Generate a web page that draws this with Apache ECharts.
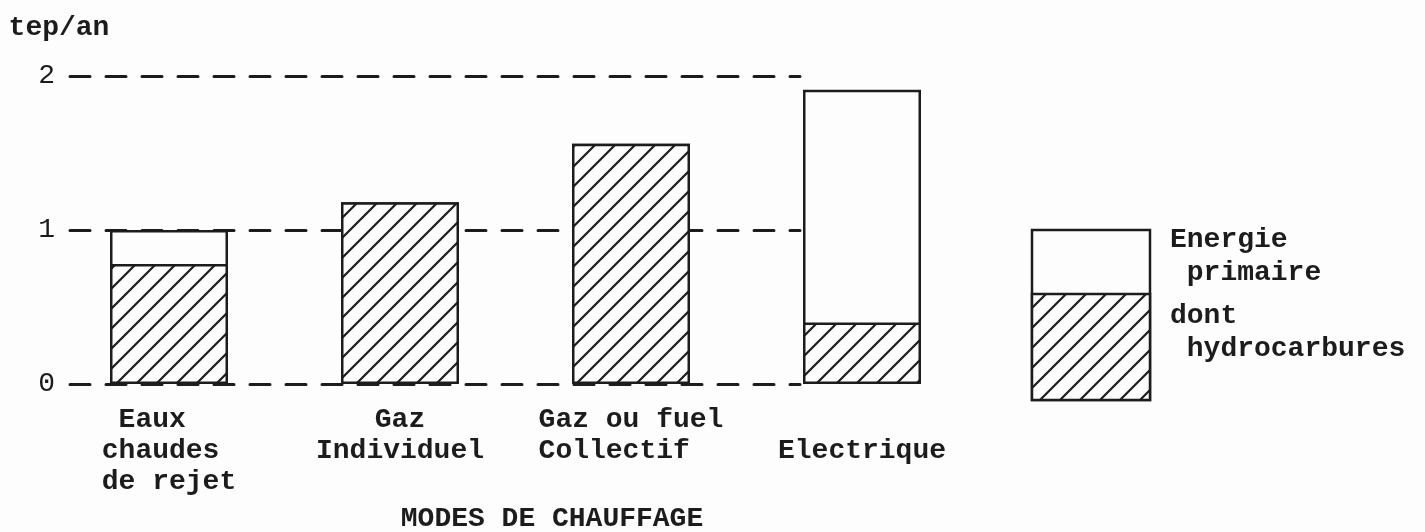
<!DOCTYPE html>
<html>
<head>
<meta charset="utf-8">
<script src="https://cdn.jsdelivr.net/npm/echarts@6/dist/echarts.min.js"></script>
<style>
html, body { margin: 0; padding: 0; background: #fdfdfd; }
#chart { width: 1425px; height: 532px; }
</style>
</head>
<body>
<div id="chart"></div>
<script>
// valeurs (tep/an)
const categories = [' Eaux   \nchaudes \nde rejet', 'Gaz\nIndividuel', 'Gaz ou fuel\nCollectif  ', '\nElectrique']
const energiePrimaire = [1.0, 1.18, 1.56, 1.91]
const dontHydrocarbures = [0.78, 1.18, 1.56, 0.40]
const yTicks = [0, 1, 2]

const ink = '#1c1c1c'
const paper = '#fdfdfd'
const typeFont = 'Liberation Mono'

// hachures obliques
function makeHatch(size, width) {
  const c = document.createElement('canvas')
  c.width = c.height = size
  const ctx = c.getContext('2d')
  ctx.fillStyle = paper
  ctx.fillRect(0, 0, size, size)
  ctx.strokeStyle = ink
  ctx.lineWidth = width
  ctx.beginPath()
  ctx.moveTo(0, size); ctx.lineTo(size, 0)
  ctx.moveTo(-size / 2, size / 2); ctx.lineTo(size / 2, -size / 2)
  ctx.moveTo(size / 2, size * 1.5); ctx.lineTo(size * 1.5, size / 2)
  ctx.stroke()
  return c
}
const hatch = { image: makeHatch(20, 2.2), repeat: 'repeat' }

const myChart = echarts.init(document.getElementById('chart'))
const option = {
  backgroundColor: paper,
  animation: false,
  textStyle: { fontFamily: typeFont, color: ink },
  grid: [
    // grille des pointillés (axe y)
    { left: 70, right: 625, top: 76, bottom: 148 },
    // grille des barres
    { left: 53.5, right: 447.5, top: 76, bottom: 148 }
  ],
  xAxis: [
    { gridIndex: 0, type: 'value', show: false, min: 0, max: 1 },
    {
      gridIndex: 1,
      type: 'category',
      data: categories,
      axisLine: { show: false },
      axisTick: { show: false },
      axisLabel: {
        interval: 0,
        margin: 20,
        fontFamily: typeFont,
        fontSize: 28,
        fontWeight: 'bold',
        lineHeight: 31,
        color: ink
      }
    }
  ],
  yAxis: [
    {
      gridIndex: 0,
      type: 'value',
      min: yTicks[0],
      max: yTicks[yTicks.length - 1],
      interval: 1,
      name: 'tep/an',
      nameLocation: 'end',
      nameGap: 34,
      nameTextStyle: {
        fontFamily: typeFont,
        fontSize: 28,
        fontWeight: 'bold',
        color: ink,
        padding: [0, 22, 0, 0]
      },
      axisLine: { show: false },
      axisTick: { show: false },
      axisLabel: {
        margin: 15,
        fontFamily: typeFont,
        fontSize: 28,
        color: ink
      },
      splitLine: {
        show: true,
        lineStyle: { color: ink, width: 3, type: [20, 16], cap: 'round' }
      }
    },
    { gridIndex: 1, type: 'value', min: 0, max: 2, show: false }
  ],
  series: [
    {
      name: 'Energie primaire',
      type: 'bar',
      xAxisIndex: 1,
      yAxisIndex: 1,
      barWidth: 118,
      data: energiePrimaire,
      itemStyle: { color: paper, borderColor: ink, borderWidth: 2.5 }
    },
    {
      name: 'dont hydrocarbures',
      type: 'bar',
      xAxisIndex: 1,
      yAxisIndex: 1,
      barWidth: 118,
      barGap: '-100%',
      data: dontHydrocarbures,
      itemStyle: { color: hatch, borderColor: ink, borderWidth: 2.5 }
    }
  ],
  graphic: [
    {
      type: 'text',
      x: 552,
      y: 519,
      style: {
        text: 'MODES DE CHAUFFAGE',
        font: 'bold 28px "Liberation Mono"',
        fill: ink,
        align: 'center',
        verticalAlign: 'middle'
      }
    },
    // légende
    {
      type: 'rect',
      shape: { x: 1032, y: 230, width: 118, height: 170 },
      style: { fill: paper, stroke: ink, lineWidth: 2.5 }
    },
    {
      type: 'rect',
      shape: { x: 1032, y: 294, width: 118, height: 106 },
      style: { fill: hatch, stroke: ink, lineWidth: 2.5 }
    },
    {
      type: 'text',
      x: 1170,
      y: 256,
      style: {
        text: 'Energie\n primaire',
        font: 'bold 28px "Liberation Mono"',
        lineHeight: 33,
        fill: ink,
        align: 'left',
        verticalAlign: 'middle'
      }
    },
    {
      type: 'text',
      x: 1170,
      y: 332,
      style: {
        text: 'dont\n hydrocarbures',
        font: 'bold 28px "Liberation Mono"',
        lineHeight: 33,
        fill: ink,
        align: 'left',
        verticalAlign: 'middle'
      }
    }
  ]
}
myChart.setOption(option)
</script>
</body>
</html>
